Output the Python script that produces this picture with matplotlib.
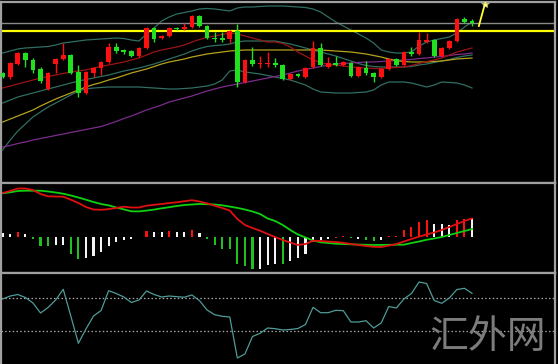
import matplotlib.pyplot as plt
import numpy as np

plt.rcParams['font.family'] = ['Noto Sans CJK SC', 'DejaVu Sans']

# candles (arbitrary price units)
opens = [127, 123, 136, 147, 140, 131, 111, 136, 141, 145, 128, 107, 127, 132, 138, 153,
         150, 149, 144, 152, 172, 162, 164, 172, 171, 173, 184, 174, 162, 162, 161, 169,
         118, 140, 136, 136, 137, 135, 121, 126, 123, 133, 152, 133, 137, 135, 137, 124,
         132, 127, 123, 131, 141, 135, 148, 146, 158, 160, 144, 152, 159, 181, 179]
highs = [128, 138, 148, 148, 142, 133, 128, 142, 157, 146, 135, 129, 133, 139, 157, 157,
         151, 150, 153, 173, 173, 165, 173, 173, 177, 185, 185, 175, 168, 168, 170, 176,
         141, 153, 144, 148, 142, 136, 127, 127, 133, 159, 157, 143, 144, 139, 138, 134,
         139, 128, 132, 142, 142, 149, 153, 168, 167, 161, 153, 160, 182, 183, 181]
lows = [122, 121, 135, 133, 127, 117, 110, 127, 140, 126, 103, 106, 123, 125, 137, 147,
        146, 143, 143, 151, 158, 161, 163, 170, 170, 172, 173, 161, 158, 158, 157, 113,
        117, 134, 132, 133, 133, 120, 120, 123, 122, 132, 134, 132, 134, 134, 123, 123,
        125, 118, 122, 130, 134, 134, 144, 145, 157, 143, 143, 151, 158, 177, 174]
closes = [123, 137, 147, 140, 130, 119, 127, 141, 145, 127, 107, 128, 132, 138, 153, 149,
          148, 144, 152, 172, 161, 164, 172, 171, 173, 184, 174, 162, 161, 160, 169, 118,
          140, 136, 137, 137, 135, 121, 126, 124, 132, 152, 135, 137, 135, 138, 124, 133,
          127, 123, 131, 141, 135, 148, 146, 160, 160, 144, 152, 159, 181, 178, 177]

bb_upper = [147, 149, 151, 152, 152.5, 153, 153.5, 155, 157, 158, 159, 160, 160.5, 161, 161.5, 162,
            161.5, 160, 159, 166, 172, 179, 183, 186, 187.5, 189, 191, 191.5, 191, 190, 189, 192,
            193, 193, 193.5, 194, 194, 194, 193.5, 193, 192.5, 191, 188, 183, 178, 174, 170, 166,
            162, 157, 150, 148, 147, 147, 148, 154, 158, 160, 161.5, 163, 167, 173, 178]
bb_mid = [97, 100, 103, 105, 107, 109, 111, 113, 115, 117, 119, 120.5, 122, 123.5, 125, 127,
          129, 130.5, 132, 134, 136, 138.5, 141, 143.5, 146, 149, 151.5, 153.5, 154.5, 155, 156, 158,
          159, 159, 159, 159, 159, 157.5, 156, 154, 152, 150, 148, 146, 144, 141.5, 139, 136.5,
          134.5, 133.5, 133, 133, 133, 133, 133.5, 135, 136, 137.5, 139, 140.5, 142.5, 144, 145]
bb_lower = [50, 60, 69, 76, 83, 88, 93, 97, 101, 105, 109, 111, 112, 112.5, 113, 113,
            113, 113, 113, 112.5, 112, 111.5, 111, 111, 111.5, 112, 113, 114, 116, 120, 129, 130,
            128, 127, 126, 124.5, 123, 121.5, 120, 117.5, 115, 111, 108, 107.5, 107, 107, 107, 107.5,
            108, 110, 115, 118, 118, 118, 117, 115, 113, 115, 118, 117.5, 117, 115, 112]
ma_red = [112, 114, 116, 118, 120, 122, 123.5, 125, 126.5, 128, 129, 130, 132, 133.5, 135, 136.5,
          138, 140, 142, 145, 148, 150, 151.5, 153, 155, 158, 160.5, 162.5, 164, 165.5, 167, 166,
          164, 162, 160, 158, 158, 156.5, 153, 148, 144, 140, 137.5, 135.5, 135, 134, 133, 132.5,
          132, 131.5, 131.5, 132, 132.5, 133, 134.5, 136.5, 138.5, 140, 142, 145, 148, 150, 152]
ma_yellow = [78, 81, 84, 87, 90, 94, 97.5, 101, 104, 107, 110, 113, 115.5, 117.5, 120, 122,
             124.5, 127, 129, 131, 133.5, 136, 138, 139.5, 141, 143, 144.5, 146, 147, 148, 149, 149.5,
             150, 150, 150, 150, 150, 150, 150, 150, 150, 150, 150, 149.5, 149, 148.5, 148, 147,
             146, 144.5, 143, 141, 139.5, 138.5, 138, 138, 138, 138.5, 139, 140, 141, 141.5, 142]
ma_purple = [53, 54.5, 56.5, 58, 60, 61.5, 63, 64.5, 66, 67.5, 69, 70.5, 72, 73.5, 76, 78.5,
             81.5, 84, 87, 90, 92.5, 95, 98, 100, 102, 104, 106.5, 109, 111, 113, 114.5, 116,
             117.5, 119, 120.5, 122, 123.5, 125, 127, 129, 130.5, 132, 133.5, 135, 136, 136.5, 137, 137.5,
             138, 138, 138.5, 139, 139.5, 140, 140.5, 141.5, 142, 143, 143.5, 144.5, 145.5, 146, 147]
level_gray = 177.3
level_yellow = 169.3
arrow_x = [62.9, 63.7]
arrow_y = [174, 196]

# MACD panel
macd_red = [43.7, 45.7, 48.2, 48.2, 46.7, 42.7, 40.4, 40.2, 40.0, 37.0, 33.7, 29.7, 27.2, 26.9, 27.6, 28.7,
            30.0, 29.2, 29.2, 31.0, 31.9, 32.7, 33.7, 34.4, 35.5, 36.5, 35.2, 33.3, 31.0, 28.7, 26.1, 17.7,
            11.7, 8.7, 6.0, 2.7, -0.3, -3.3, -5.8, -8.3, -7.3, -4.0, -4.3, -4.9, -5.3, -6.1, -7.3, -8.3,
            -9.3, -10.1, -10.3, -8.9, -7.4, -4.8, -2.3, 0.1, 2.2, 4.2, 6.7, 9.7, 12.7, 15.7, 18.3]
macd_green = [43.4, 44.4, 45.7, 46.0, 46.0, 46.0, 45.2, 44.2, 43.0, 41.2, 39.2, 37.0, 34.7, 32.7, 31.3, 29.2,
              27.3, 25.4, 25.3, 26.1, 27.1, 28.4, 29.5, 30.7, 31.7, 32.2, 32.7, 32.5, 32.2, 31.4, 30.1, 28.8,
              27.2, 25.2, 22.7, 18.2, 15.7, 11.7, 6.7, 2.2, -0.8, -3.8, -5.6, -6.3, -7.0, -7.4, -7.6, -7.9,
              -8.1, -8.3, -8.2, -8.1, -8.0, -8.0, -6.3, -4.8, -3.1, -1.8, -0.3, 1.7, 3.7, 5.7, 7.7]
hist = [4, 3, 5, 3, -2, -9, -9, -8, -8, -17, -22, -21, -19, -15, -9, -5,
        -3, -2, -0.7, 6, 5, 5, 6, 5, 5, 7, 4, -2, -8, -12, -12, -27,
        -29, -32, -32, -28, -27, -27, -24, -21, -17, -5, -3, -2, -1, 1, -1, -2,
        -3, -4, -3, 1, 1, 7, 10, 15, 17, 13, 13, 12, 17, 18, 19]
hist_kind = ['w', 'w', 'r', 'w', 'g', 'g', 'g', 'w', 'w', 'g', 'g', 'w', 'w', 'w', 'w', 'w',
             'w', 'w', 'w', 'r', 'w', 'w', 'r', 'w', 'w', 'r', 'w', 'g', 'g', 'g', 'g', 'g',
             'g', 'g', 'w', 'w', 'w', 'g', 'w', 'w', 'w', 'w', 'w', 'w', 'r', 'r', 'g', 'w',
             'g', 'g', 'w', 'r', 'r', 'r', 'r', 'r', 'r', 'w', 'w', 'w', 'r', 'r', 'w']

# oscillator panel
osc = [65, 68, 69.5, 66.5, 61, 51, 56.5, 64, 74.7, 48, 20.7, 35, 48, 53.5, 73.3, 70.5,
       67, 61.5, 64, 73, 69.5, 67, 68, 67.3, 66.8, 69, 63.4, 54, 49.3, 47.7, 47, 6,
       10, 27.5, 30.7, 36, 35.3, 34, 34.5, 35.5, 39.5, 56.7, 51.3, 51.3, 53.7, 53.3, 42, 42,
       43.3, 36, 41, 57.5, 56, 65, 70.5, 82, 80.5, 63.5, 60.7, 66, 74.5, 75.7, 70.7]
osc_levels = [66, 33]

x = np.arange(len(opens))
W, H = 558, 364
fig = plt.figure(figsize=(W / 100, H / 100), dpi=100, facecolor='black')

def panel(top, bottom):
    ax = fig.add_axes([1 / W, (H - bottom) / H, 554 / W, (bottom - top) / H])
    ax.set_facecolor('black')
    ax.set_xlim(-0.22, 72.96)
    ax.set_xticks([])
    ax.set_yticks([])
    for s in ax.spines.values():
        s.set_color('#a0a0a0')
        s.set_linewidth(1.6)
    return ax

ax1 = panel(2, 183)
ax2 = panel(183, 273)
ax3 = panel(273, 364)
ax3.spines['bottom'].set_visible(False)

# main panel
ax1.set_ylim(17, 198)
band_c = '#2f6e62'
ax1.plot(x, bb_upper, color=band_c, lw=0.9)
ax1.plot(x, bb_lower, color=band_c, lw=0.9)
ax1.plot(x, bb_mid, color=band_c, lw=0.9)
ax1.plot(x, ma_purple, color='#7b2c8c', lw=0.9)
ax1.plot(x, ma_yellow, color='#b4a21c', lw=0.9)
ax1.plot(x, ma_red, color='#9c1414', lw=0.9)
ax1.axhline(level_gray, color='#8a8a8a', lw=1.0)
ax1.axhline(level_yellow, color='#ffff00', lw=1.6)

o = np.array(opens)
c = np.array(closes)
up = c >= o
cols = np.where(up, '#ff1010', '#20e020')
ax1.vlines(x, lows, highs, colors=cols, lw=1.0, zorder=3)
body_h = np.maximum(np.abs(c - o), 1.0)
ax1.bar(x, body_h, bottom=np.minimum(o, c), width=0.62, color=cols, zorder=4)
ax1.plot(arrow_x, arrow_y, color='#ffff30', lw=1.3, zorder=5)
ax1.plot(arrow_x[-1], arrow_y[-1], marker='*', ms=6, color='#ffff60', mec='#c8c8a0', mew=0.4, zorder=6)

# MACD panel
ax2.set_ylim(-36.3, 53.7)
kind_col = {'w': '#f4f4f4', 'r': '#ff1010', 'g': '#20c020'}
ax2.bar(x, hist, width=0.27, color=[kind_col[k] for k in hist_kind])
ax2.plot(x, macd_green, color='#10d010', lw=1.3)
ax2.plot(x, macd_red, color='#e01010', lw=1.3)

# oscillator panel
ax3.set_ylim(0, 91)
for lv in osc_levels:
    ax3.axhline(lv, color='#a8a8a8', lw=0.9, ls=(0, (1.2, 1.8)))
ax3.plot(x, osc, color='#4f9b98', lw=0.9)

fig.text(488 / W, 1 - 337 / H, '汇外网', color='#7c7c7c', fontsize=28,
         ha='center', va='center', fontweight='light')

fig.savefig('out.png', dpi=100, facecolor='black')
